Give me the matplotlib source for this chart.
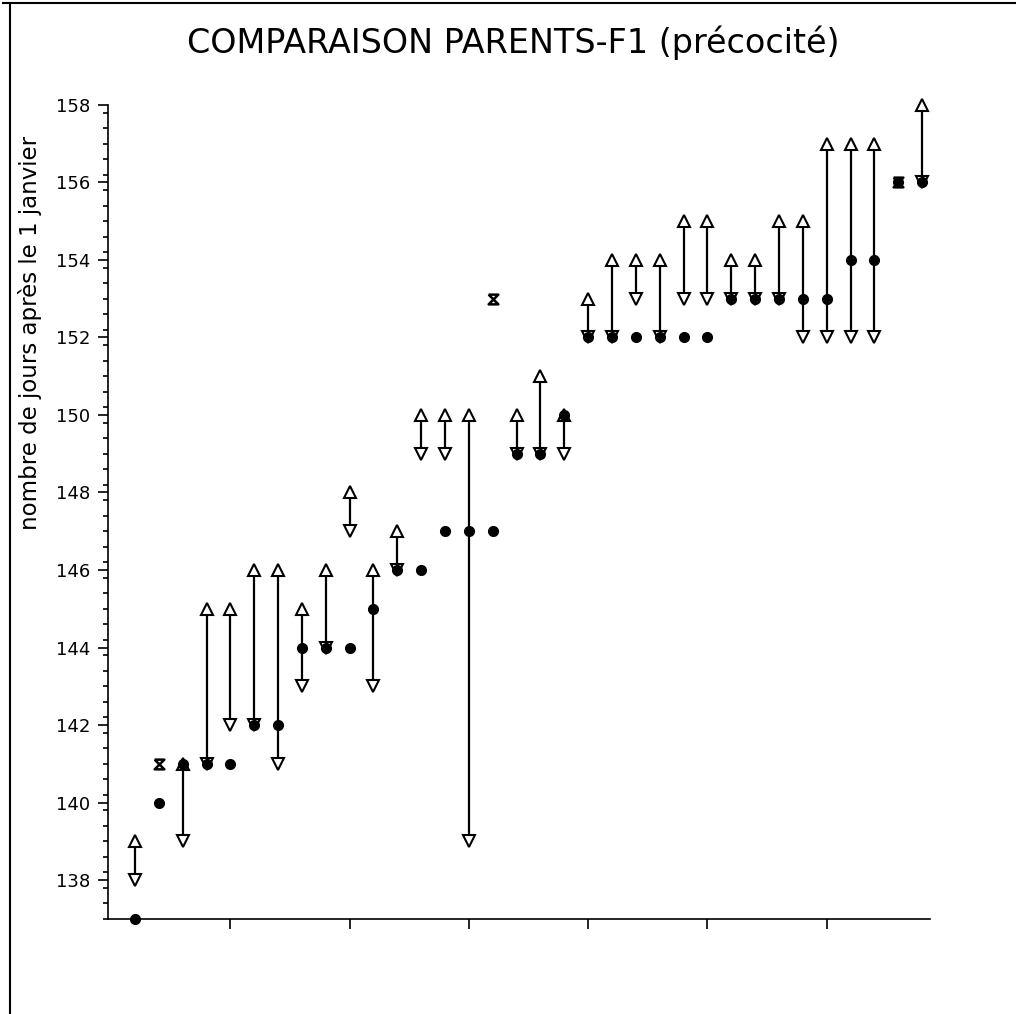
import numpy as np
import matplotlib.pyplot as plt
from matplotlib.lines import Line2D

# valeurs (34 croisements)
f1 = [137, 140, 141, 141, 141, 142, 142, 144, 144, 144, 145, 146, 146, 147, 147, 147, 149,
      149, 150, 152, 152, 152, 152, 152, 152, 153, 153, 153, 153, 153, 154, 154, 156, 156]
parent_max = [139, 141, 141, 145, 145, 146, 146, 145, 146, 148, 146, 147, 150, 150, 150, 153, 150,
              151, 150, 153, 154, 154, 154, 155, 155, 154, 154, 155, 155, 157, 157, 157, 156, 158]
parent_min = [138, 141, 139, 141, 142, 142, 141, 143, 144, 147, 143, 146, 149, 149, 139, 153, 149,
              149, 149, 152, 152, 153, 152, 153, 153, 153, 153, 153, 152, 152, 152, 152, 156, 156]
yticks = [138, 140, 142, 144, 146, 148, 150, 152, 154, 156, 158]
xticks = [5, 10, 15, 20, 25, 30]

x = np.arange(1, len(f1) + 1)
f1 = np.array(f1)
pmax = np.array(parent_max)
pmin = np.array(parent_min)

fig = plt.figure(figsize=(10.16, 10.14), dpi=100)
ax = fig.add_axes([0.1063, 0.0937, 0.809, 0.803])

hourglass = [(-1, 1), (1, 1), (-1, -1), (1, -1), (-1, 1)]
same = pmax == pmin
diff = ~same

# traits entre les deux parents
ax.vlines(x[diff], pmin[diff], pmax[diff], color='black', lw=1.6, zorder=2, clip_on=False)
ax.plot(x[diff], pmax[diff], linestyle='none', marker='^', ms=8, mfc='white', mec='black', mew=1.5,
        zorder=3, clip_on=False)
ax.plot(x[diff], pmin[diff], linestyle='none', marker='v', ms=8, mfc='white', mec='black', mew=1.5,
        zorder=3, clip_on=False)
ax.plot(x[same], pmax[same], linestyle='none', marker=hourglass, ms=7, mfc='white', mec='black', mew=1.8,
        zorder=3, clip_on=False)
# F1
ax.plot(x, f1, linestyle='none', marker='o', ms=7, color='black', zorder=4, clip_on=False)

ax.set_xlim(-0.13, 34.33)
ax.set_ylim(137, 158)
ax.set_xticks(xticks)
ax.set_xticklabels([])
ax.set_yticks(yticks)
ax.set_yticks(np.arange(137.0, 158.01, 0.4), minor=True)
ax.tick_params(axis='y', which='major', direction='out', length=7, width=1.2, labelsize=13, pad=6)
ax.tick_params(axis='y', which='minor', direction='out', length=3.5, width=1.2)
ax.tick_params(axis='x', which='major', direction='out', length=7, width=1.2)
for s in ['top', 'right']:
    ax.spines[s].set_visible(False)
for s in ['left', 'bottom']:
    ax.spines[s].set_linewidth(1.2)

ax.set_ylabel("nombre de jours après le 1 janvier", fontsize=16.5)
ax.yaxis.set_label_coords(-0.08, 0.72)
fig.text(0.505, 0.958, "COMPARAISON PARENTS-F1 (précocité)", ha='center', va='center', fontsize=24)

# cadre de la page
fig.add_artist(Line2D([0.01, 0.01], [0.0, 0.997], transform=fig.transFigure, color='black', lw=1.5))
fig.add_artist(Line2D([0.003, 1.0], [0.997, 0.997], transform=fig.transFigure, color='black', lw=1.5))

fig.savefig("out.png", dpi=100)
